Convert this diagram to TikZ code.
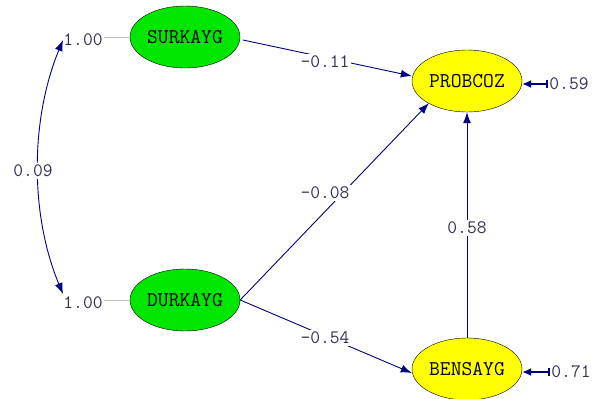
\documentclass[tikz,border=0pt]{standalone}
\usepackage{fontspec}
\usetikzlibrary{shapes.geometric,arrows.meta}
\definecolor{pathblue}{RGB}{0,0,128}
\definecolor{latgreen}{RGB}{0,230,0}
\definecolor{obsyellow}{RGB}{255,255,0}
\definecolor{labcol}{RGB}{50,50,80}
\tikzset{
  lat/.style={ellipse,draw=black,fill=latgreen,minimum width=110pt,minimum height=62pt,inner sep=0pt,font=\ttfamily\fontsize{21}{21}\selectfont},
  obs/.style={lat,fill=obsyellow},
  val/.style={font=\ttfamily\fontsize{19}{19}\selectfont,text=labcol,inner sep=1.5pt},
  valbg/.style={val,fill=white},
  arr/.style={draw=pathblue,line width=0.9pt,-{Latex[length=11pt,width=8pt]}},
  darr/.style={draw=pathblue,line width=0.9pt,{Latex[length=11pt,width=8pt]}-{Latex[length=11pt,width=8pt]}},
  earr/.style={draw=pathblue,line width=1.6pt,{Bar[width=8pt]}-{Latex[length=9pt,width=8pt]}},
}
\begin{document}
\begin{tikzpicture}[x=1pt,y=-1pt]
\useasboundingbox (0,0) rectangle (592,399);
\node[lat] (sur) at (185,37) {SURKAYG};
\node[lat] (dur) at (185,300) {DURKAYG};
\node[obs] (prob) at (467,81) {PROBCOZ};
\node[obs] (ben) at (467,369) {BENSAYG};
% variances
\node[val] (v1) at (83,40) {1.00};
\node[val] (v2) at (83,303) {1.00};
\draw[gray!50,line width=0.8pt] (v1.east |- sur) -- (sur.west);
\draw[gray!50,line width=0.8pt] (v2.east |- dur) -- (dur.west);
\coordinate (c1) at (63,40);
\coordinate (c2) at (63,294);
\draw[darr] (c1) .. controls (30,120) and (30,215) .. (c2);
\node[valbg] (cov) at (33,171) {0.09};
% errors
\node[val] (e1) at (569,84) {0.59};
\node[val] (e2) at (571,372) {0.71};
\draw[earr] (e1.west) -- (prob.east |- e1.west);
\draw[earr] (e2.west) -- (ben.east |- e2.west);
% paths
\draw[arr] (243,40) -- (prob.west |- 0,76);
\draw[arr] (dur.east) -- ([xshift=1pt]prob.south west);
\draw[arr] (dur.east) -- ([yshift=-4pt]ben.west);
\draw[arr] (ben.north) -- (prob.south);
\node[valbg] (p1) at (325,62) {-0.11};
\node[valbg] (p2) at (325,193) {-0.08};
\node[valbg] (p3) at (325,338) {-0.54};
\node[valbg] (p4) at (467,228) {0.58};
\end{tikzpicture}
\end{document}
